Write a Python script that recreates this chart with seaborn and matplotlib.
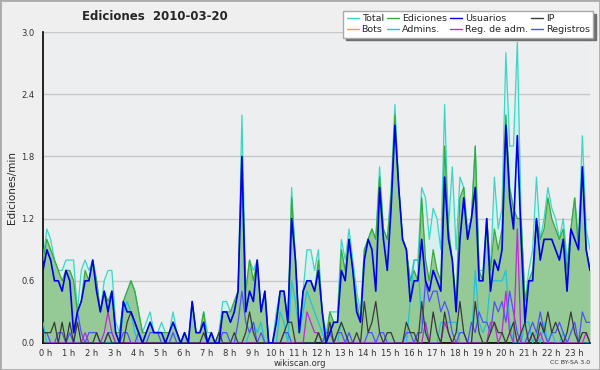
import matplotlib
matplotlib.use("Agg")
import matplotlib.pyplot as plt
import matplotlib.ticker as ticker
import matplotlib.transforms as mtransforms
from matplotlib.lines import Line2D
from matplotlib.patches import Rectangle
import pandas as pd
import seaborn as sns

# one value every 10 minutes (144 per day), edits per minute
total = [
    0.8, 1.1, 1.0, 0.8, 0.7, 0.7, 0.8, 0.8, 0.8, 0.3, 0.7, 0.8,
    0.7, 0.8, 0.6, 0.3, 0.6, 0.7, 0.7, 0.2, 0.1, 0.4, 0.5, 0.6,
    0.5, 0.3, 0.1, 0.2, 0.3, 0.1, 0.1, 0.2, 0.1, 0.1, 0.3, 0.1,
    0.0, 0.1, 0.0, 0.4, 0.1, 0.1, 0.3, 0.1, 0.1, 0.0, 0.1, 0.4,
    0.4, 0.3, 0.4, 0.5, 2.2, 0.5, 0.8, 0.7, 0.8, 0.3, 0.5, 0.0,
    0.0, 0.3, 0.5, 0.5, 0.2, 1.5, 0.8, 0.1, 0.5, 0.9, 0.9, 0.7,
    0.9, 0.3, 0.1, 0.3, 0.3, 0.3, 1.0, 0.8, 1.1, 0.8, 0.5, 0.3,
    0.9, 1.0, 1.1, 1.0, 1.7, 1.1, 1.0, 1.5, 2.3, 1.5, 1.0, 0.9,
    0.6, 0.8, 0.8, 1.5, 1.4, 1.0, 1.3, 1.2, 0.9, 2.3, 1.1, 1.7,
    0.9, 1.6, 1.5, 1.1, 1.2, 1.9, 0.7, 0.7, 1.2, 0.7, 1.6, 1.1,
    1.3, 2.8, 1.9, 1.9, 2.9, 1.2, 0.4, 0.7, 0.9, 1.6, 1.0, 1.2,
    1.5, 1.3, 1.2, 1.0, 1.2, 0.8, 1.1, 1.4, 1.0, 2.0, 1.1, 0.9,
]
ediciones = [
    0.8, 1.0, 0.9, 0.8, 0.7, 0.6, 0.7, 0.7, 0.6, 0.3, 0.4, 0.7,
    0.6, 0.8, 0.6, 0.3, 0.5, 0.4, 0.5, 0.1, 0.1, 0.4, 0.5, 0.6,
    0.5, 0.3, 0.1, 0.1, 0.2, 0.1, 0.1, 0.1, 0.1, 0.1, 0.2, 0.1,
    0.0, 0.1, 0.0, 0.4, 0.1, 0.1, 0.3, 0.0, 0.1, 0.0, 0.1, 0.3,
    0.3, 0.3, 0.4, 0.5, 1.8, 0.5, 0.8, 0.6, 0.8, 0.3, 0.5, 0.0,
    0.0, 0.2, 0.5, 0.5, 0.2, 1.4, 0.8, 0.1, 0.5, 0.6, 0.6, 0.5,
    0.8, 0.3, 0.0, 0.3, 0.2, 0.2, 0.9, 0.7, 1.0, 0.7, 0.4, 0.2,
    0.9, 1.0, 1.1, 1.0, 1.6, 1.1, 1.0, 1.4, 2.2, 1.5, 1.0, 0.9,
    0.6, 0.7, 0.6, 1.4, 0.8, 0.6, 0.9, 0.7, 0.6, 1.9, 1.1, 0.8,
    0.4, 1.4, 1.5, 1.0, 1.2, 1.9, 0.7, 0.6, 1.2, 0.7, 1.1, 0.9,
    1.1, 2.2, 1.5, 1.3, 1.2, 1.2, 0.4, 0.6, 0.7, 1.2, 1.0, 1.1,
    1.4, 1.2, 1.1, 1.0, 1.1, 0.7, 1.1, 1.4, 0.9, 1.7, 0.9, 0.7,
]
usuarios = [
    0.7, 0.9, 0.8, 0.6, 0.6, 0.5, 0.7, 0.6, 0.1, 0.3, 0.4, 0.6,
    0.6, 0.8, 0.5, 0.3, 0.5, 0.3, 0.5, 0.1, 0.0, 0.4, 0.3, 0.3,
    0.2, 0.1, 0.0, 0.1, 0.2, 0.1, 0.1, 0.1, 0.0, 0.1, 0.2, 0.1,
    0.0, 0.1, 0.0, 0.4, 0.1, 0.1, 0.2, 0.0, 0.1, 0.0, 0.0, 0.3,
    0.3, 0.2, 0.3, 0.5, 1.8, 0.3, 0.5, 0.4, 0.8, 0.3, 0.5, 0.0,
    0.0, 0.2, 0.5, 0.5, 0.2, 1.2, 0.8, 0.1, 0.5, 0.6, 0.6, 0.5,
    0.7, 0.3, 0.0, 0.1, 0.2, 0.2, 0.7, 0.6, 1.0, 0.7, 0.3, 0.2,
    0.8, 1.0, 0.9, 0.5, 1.5, 1.0, 0.7, 1.3, 2.1, 1.5, 1.0, 0.9,
    0.4, 0.6, 0.6, 1.0, 0.6, 0.5, 0.7, 0.6, 0.5, 1.6, 1.0, 0.8,
    0.3, 1.0, 1.4, 1.0, 1.2, 1.5, 0.6, 0.6, 1.2, 0.5, 0.8, 0.7,
    0.9, 2.1, 1.4, 1.1, 2.0, 1.0, 0.2, 0.6, 0.6, 1.2, 0.8, 1.0,
    1.0, 1.0, 0.9, 0.8, 1.0, 0.5, 1.1, 1.0, 0.9, 1.7, 0.9, 0.7,
]
ip = [
    0.1, 0.1, 0.1, 0.2, 0.0, 0.2, 0.0, 0.2, 0.0, 0.2, 0.0, 0.0,
    0.0, 0.0, 0.1, 0.0, 0.0, 0.1, 0.0, 0.0, 0.0, 0.0, 0.2, 0.3,
    0.2, 0.1, 0.0, 0.0, 0.0, 0.0, 0.0, 0.0, 0.0, 0.0, 0.0, 0.0,
    0.0, 0.0, 0.0, 0.0, 0.0, 0.0, 0.1, 0.0, 0.0, 0.0, 0.1, 0.0,
    0.0, 0.0, 0.1, 0.0, 0.0, 0.1, 0.3, 0.1, 0.0, 0.0, 0.0, 0.0,
    0.0, 0.0, 0.0, 0.1, 0.2, 0.2, 0.0, 0.0, 0.0, 0.0, 0.0, 0.0,
    0.1, 0.0, 0.0, 0.2, 0.0, 0.1, 0.2, 0.1, 0.0, 0.0, 0.1, 0.0,
    0.4, 0.1, 0.2, 0.4, 0.1, 0.0, 0.1, 0.1, 0.0, 0.0, 0.0, 0.2,
    0.1, 0.1, 0.0, 0.4, 0.1, 0.0, 0.3, 0.1, 0.0, 0.3, 0.1, 0.0,
    0.1, 0.4, 0.1, 0.0, 0.0, 0.4, 0.1, 0.0, 0.0, 0.1, 0.2, 0.1,
    0.1, 0.0, 0.1, 0.2, 0.0, 0.1, 0.2, 0.0, 0.1, 0.0, 0.2, 0.1,
    0.3, 0.1, 0.2, 0.1, 0.0, 0.1, 0.3, 0.1, 0.0, 0.1, 0.1, 0.0,
]
admins = [
    0.2, 0.0, 0.0, 0.0, 0.0, 0.0, 0.0, 0.0, 0.0, 0.0, 0.0, 0.0,
    0.0, 0.0, 0.0, 0.0, 0.0, 0.0, 0.0, 0.0, 0.0, 0.3, 0.4, 0.3,
    0.1, 0.0, 0.0, 0.0, 0.0, 0.0, 0.0, 0.0, 0.0, 0.0, 0.0, 0.0,
    0.0, 0.0, 0.0, 0.0, 0.0, 0.0, 0.0, 0.0, 0.0, 0.0, 0.0, 0.0,
    0.0, 0.0, 0.0, 0.0, 0.0, 0.0, 0.1, 0.2, 0.1, 0.2, 0.0, 0.0,
    0.0, 0.0, 0.3, 0.2, 0.0, 0.6, 0.4, 0.1, 0.3, 0.5, 0.4, 0.3,
    0.2, 0.1, 0.0, 0.0, 0.0, 0.0, 0.2, 0.1, 0.0, 0.0, 0.0, 0.0,
    0.0, 0.0, 0.0, 0.0, 0.0, 0.0, 0.0, 0.0, 0.0, 0.0, 0.0, 0.0,
    0.4, 0.8, 0.8, 0.2, 0.2, 0.0, 0.0, 0.0, 0.2, 0.2, 0.2, 0.2,
    0.2, 0.0, 0.0, 0.0, 0.0, 0.7, 0.2, 0.1, 0.2, 0.6, 0.6, 0.6,
    0.6, 0.7, 0.2, 0.0, 0.0, 0.0, 0.2, 0.2, 0.0, 0.1, 0.0, 0.2,
    0.0, 0.1, 0.0, 0.0, 0.1, 0.0, 0.0, 0.0, 0.0, 0.0, 0.0, 0.0,
]
reg_adm = [
    0.0, 0.0, 0.0, 0.0, 0.0, 0.0, 0.0, 0.0, 0.0, 0.0, 0.0, 0.1,
    0.0, 0.0, 0.0, 0.0, 0.1, 0.3, 0.1, 0.0, 0.0, 0.0, 0.0, 0.0,
    0.0, 0.0, 0.0, 0.0, 0.0, 0.0, 0.0, 0.0, 0.0, 0.0, 0.0, 0.0,
    0.0, 0.0, 0.0, 0.0, 0.0, 0.0, 0.0, 0.0, 0.0, 0.0, 0.0, 0.0,
    0.0, 0.0, 0.0, 0.0, 0.0, 0.0, 0.0, 0.0, 0.0, 0.0, 0.0, 0.0,
    0.0, 0.0, 0.0, 0.0, 0.0, 0.0, 0.0, 0.0, 0.0, 0.3, 0.2, 0.1,
    0.1, 0.0, 0.0, 0.0, 0.0, 0.0, 0.0, 0.0, 0.0, 0.0, 0.0, 0.0,
    0.0, 0.0, 0.0, 0.0, 0.0, 0.0, 0.0, 0.0, 0.0, 0.0, 0.0, 0.0,
    0.0, 0.0, 0.0, 0.0, 0.2, 0.0, 0.0, 0.0, 0.0, 0.2, 0.1, 0.0,
    0.0, 0.0, 0.0, 0.0, 0.0, 0.0, 0.0, 0.0, 0.0, 0.2, 0.2, 0.0,
    0.1, 0.5, 0.1, 0.0, 1.1, 0.0, 0.0, 0.0, 0.1, 0.0, 0.1, 0.0,
    0.0, 0.0, 0.0, 0.0, 0.0, 0.0, 0.0, 0.0, 0.0, 0.0, 0.1, 0.0,
]
registros = [
    0.1, 0.1, 0.0, 0.0, 0.1, 0.1, 0.0, 0.1, 0.0, 0.3, 0.1, 0.0,
    0.1, 0.1, 0.1, 0.0, 0.0, 0.1, 0.1, 0.0, 0.0, 0.1, 0.1, 0.0,
    0.0, 0.1, 0.0, 0.0, 0.1, 0.1, 0.1, 0.0, 0.0, 0.0, 0.1, 0.0,
    0.0, 0.0, 0.0, 0.0, 0.0, 0.0, 0.0, 0.0, 0.0, 0.0, 0.0, 0.1,
    0.1, 0.0, 0.0, 0.2, 0.5, 0.2, 0.1, 0.2, 0.0, 0.1, 0.0, 0.0,
    0.0, 0.0, 0.0, 0.1, 0.1, 0.0, 0.0, 0.0, 0.0, 0.0, 0.0, 0.0,
    0.1, 0.0, 0.1, 0.1, 0.0, 0.1, 0.1, 0.0, 0.1, 0.0, 0.0, 0.0,
    0.0, 0.1, 0.1, 0.0, 0.1, 0.1, 0.0, 0.0, 0.0, 0.0, 0.0, 0.1,
    0.1, 0.0, 0.1, 0.1, 0.6, 0.4, 0.5, 0.5, 0.3, 0.4, 0.3, 0.1,
    0.0, 0.1, 0.1, 0.0, 0.2, 0.1, 0.3, 0.2, 0.2, 0.1, 0.4, 0.3,
    0.4, 0.2, 0.5, 0.3, 0.1, 0.0, 0.0, 0.1, 0.2, 0.1, 0.3, 0.1,
    0.0, 0.1, 0.1, 0.2, 0.1, 0.0, 0.1, 0.2, 0.0, 0.3, 0.2, 0.2,
]
hour_labels = [f"{h} h" for h in range(24)]

sns.set_style("white", {"axes.facecolor": "#eceef0", "figure.facecolor": "#efefef"})
plt.rcParams["font.family"] = ["DejaVu Sans"]

df = pd.DataFrame({
    "slot": range(len(total)),
    "Total": total,
    "Ediciones": ediciones,
    "Usuarios": usuarios,
    "IP": ip,
    "Admins.": admins,
    "Reg. de adm.": reg_adm,
    "Registros": registros,
})

fig, ax = plt.subplots(figsize=(6, 3.7), dpi=100)
fig.subplots_adjust(left=43 / 600, right=590 / 600, bottom=1 - 343 / 370, top=1 - 32 / 370)

ax.fill_between(df["slot"], df["Total"], color="#d5f0ed", lw=0, zorder=1)
ax.fill_between(df["slot"], df["Ediciones"], color="#95c995", lw=0, zorder=2)

colors = {
    "Total": "#3dd6c6",
    "Bots": "#ff9933",
    "Ediciones": "#3aa83a",
    "Admins.": "#1cc4dc",
    "Usuarios": "#0000e6",
    "Reg. de adm.": "#c22ad6",
    "IP": "#3a3a3a",
    "Registros": "#5050ff",
}
for name in ["Total", "Ediciones", "Admins.", "Registros", "Reg. de adm.", "IP", "Usuarios"]:
    lw = 1.2 if name == "Usuarios" else 0.9
    sns.lineplot(data=df, x="slot", y=name, ax=ax, color=colors[name], lw=lw, zorder=3)

ax.set_xlim(0, len(total) - 1)
ax.set_ylim(0, 3.0)
ax.xaxis.set_major_locator(ticker.FixedLocator(range(0, 144, 6)))
ax.xaxis.set_major_formatter(ticker.FixedFormatter(hour_labels))
ax.xaxis.set_minor_locator(ticker.MultipleLocator(1))
ax.yaxis.set_major_locator(ticker.MultipleLocator(0.6))
ax.yaxis.set_minor_locator(ticker.MultipleLocator(0.2))
ax.yaxis.set_major_formatter(ticker.FormatStrFormatter("%.1f"))
ax.grid(axis="y", which="major", color="#c8c8c8", lw=1)
ax.set_axisbelow(True)
ax.tick_params(which="both", direction="out", width=1, color="black", labelsize=6, labelcolor="#333333")
ax.tick_params(axis="x", which="major", length=4, pad=0.5)
ax.tick_params(axis="x", which="minor", length=3)
ax.tick_params(axis="y", which="major", length=5, pad=1)
ax.tick_params(axis="y", which="minor", length=3)
# hour labels sit a little right of their tick
shift = mtransforms.ScaledTranslation(3 / 100, 0, fig.dpi_scale_trans)
for lab in ax.get_xticklabels():
    lab.set_transform(lab.get_transform() + shift)
for s in ["top", "right"]:
    ax.spines[s].set_visible(False)
for s in ["left", "bottom"]:
    ax.spines[s].set_color("black")
    ax.spines[s].set_linewidth(1.2)
ax.set_xlabel("")
ax.set_ylabel("Ediciones/min", fontsize=7.5, labelpad=3)

order = ["Total", "Bots", "Ediciones", "Admins.", "Usuarios", "Reg. de adm.", "IP", "Registros"]
handles = [Line2D([], [], color=colors[n], lw=1) for n in order]
leg = ax.legend(handles, order, ncol=4, loc="upper right", bbox_to_anchor=(593 / 600, 1 - 11 / 370),
                bbox_transform=fig.transFigure, fontsize=6.8, handlelength=1.3, handletextpad=0.3,
                columnspacing=0.3, labelspacing=0.2, borderpad=0.35, borderaxespad=0, frameon=True,
                fancybox=False, shadow={"color": "#6e6e6e", "alpha": 1})
leg.get_frame().set_edgecolor("#aaaaaa")
leg.get_frame().set_facecolor("white")
leg.set_zorder(10)

fig.text(155 / 600, 1 - 16 / 370, "Ediciones  2010-03-20", ha="center", va="center", fontsize=8.5, fontweight="bold")
fig.text(300 / 600, 1 - 363 / 370, "wikiscan.org", ha="center", va="center", fontsize=6, color="#333333")
fig.text(590 / 600, 1 - 363 / 370, "CC BY-SA 3.0", ha="right", va="center", fontsize=4.5, color="#333333")
fig.patches.append(Rectangle((0, 0), 1, 1, transform=fig.transFigure, fill=False, edgecolor="#aaaaaa", lw=2))

fig.savefig("out.png", dpi=100)
